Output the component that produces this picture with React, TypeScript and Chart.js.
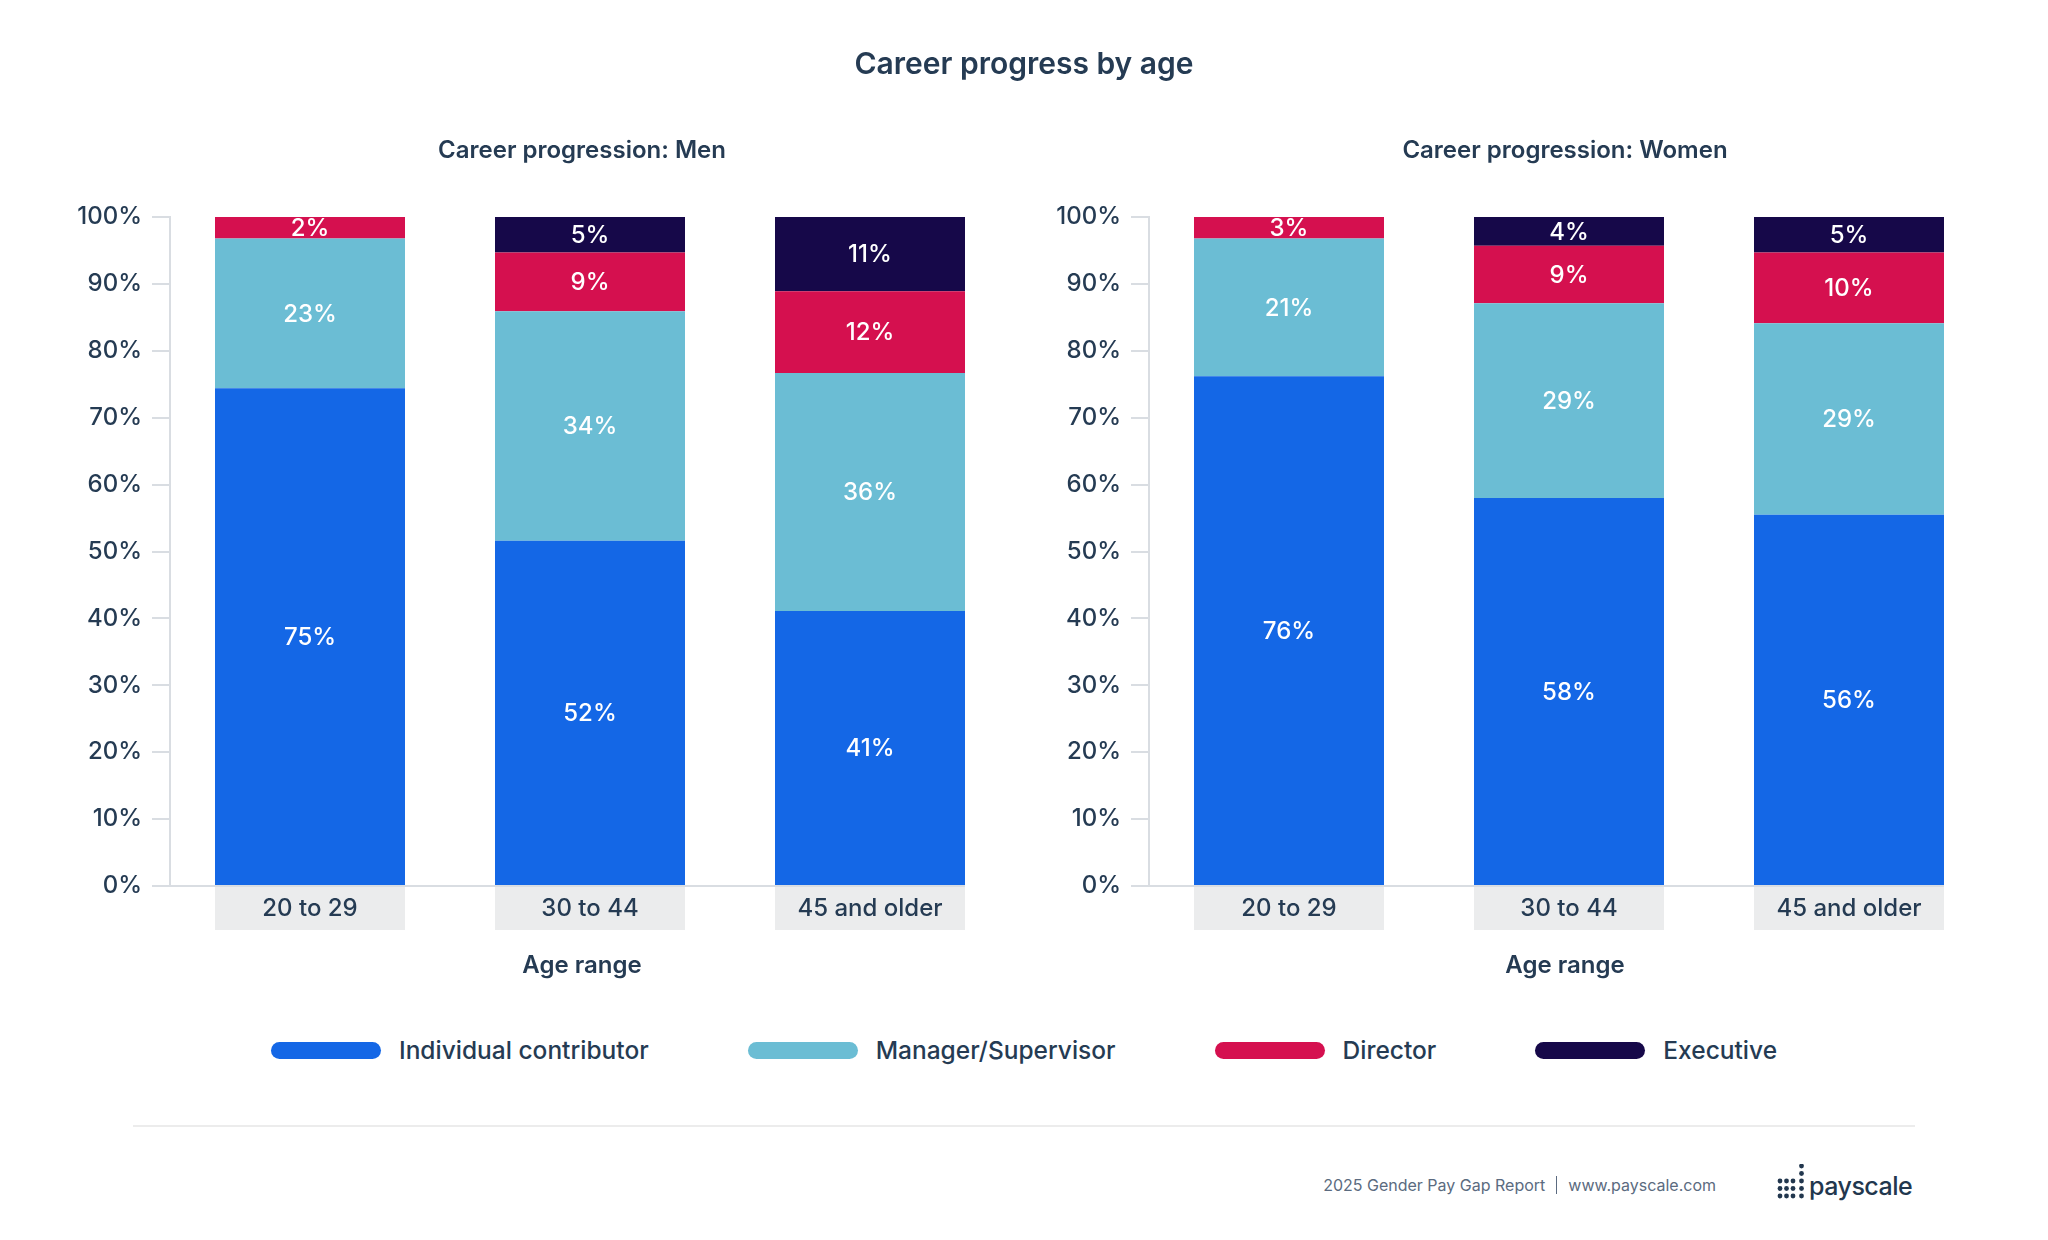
import React, { useEffect, useRef } from 'react';
import { Chart, registerables } from 'chart.js';

Chart.register(...registerables);

// ---------- data ----------
const categories = ['20 to 29', '30 to 44', '45 and older'];
const seriesNames = ['Individual contributor', 'Manager/Supervisor', 'Director', 'Executive'];
const seriesColors = ['#1467e6', '#6bbdd4', '#d5104f', '#160849'];
const yTickStep = 10;
const yMax = 100;

// measured segment heights (percent of bar)
const menIndividual = [74.4, 51.6, 41.1];
const menManager = [22.4, 34.3, 35.6];
const menDirector = [3.2, 8.8, 12.2];
const menExecutive = [0, 5.3, 11.1];

const womenIndividual = [76.2, 58.0, 55.5];
const womenManager = [20.6, 29.1, 28.6];
const womenDirector = [3.2, 8.6, 10.6];
const womenExecutive = [0, 4.3, 5.3];

// printed labels
const menIndividualLabels = [75, 52, 41];
const menManagerLabels = [23, 34, 36];
const menDirectorLabels = [2, 9, 12];
const menExecutiveLabels = [null, 5, 11];

const womenIndividualLabels = [76, 58, 56];
const womenManagerLabels = [21, 29, 29];
const womenDirectorLabels = [3, 9, 10];
const womenExecutiveLabels = [null, 4, 5];

const TEXT = '#253b53';
const AXIS = '#d9dde2';
const FONT = 'Inter';

const categoryBoxPlugin = {
  id: 'categoryBoxes',
  beforeDraw(chart: any) {
    const meta = chart.getDatasetMeta(0);
    const { ctx, chartArea } = chart;
    ctx.save();
    ctx.fillStyle = '#ebeced';
    let lastRight = chartArea.left;
    meta.data.forEach((bar: any) => {
      const w = bar.width;
      ctx.fillRect(bar.x - w / 2, chartArea.bottom + 1, w, 43);
      lastRight = Math.max(lastRight, bar.x + w / 2);
    });
    // baseline from the y axis to the right edge of the last bar
    ctx.strokeStyle = AXIS;
    ctx.lineWidth = 2;
    ctx.beginPath();
    ctx.moveTo(chartArea.left, chartArea.bottom);
    ctx.lineTo(lastRight, chartArea.bottom);
    ctx.stroke();
    ctx.restore();
  },
};

const valueLabelPlugin = {
  id: 'valueLabels',
  afterDatasetsDraw(chart: any) {
    const { ctx } = chart;
    ctx.save();
    ctx.font = `500 24px ${FONT}`;
    ctx.fillStyle = '#ffffff';
    ctx.textAlign = 'center';
    ctx.textBaseline = 'middle';
    chart.data.datasets.forEach((ds: any, i: number) => {
      const meta = chart.getDatasetMeta(i);
      meta.data.forEach((bar: any, j: number) => {
        const lbl = ds.shownLabels[j];
        if (lbl == null) return;
        ctx.fillText(lbl + '%', bar.x, (bar.y + bar.base) / 2 + 1);
      });
    });
    ctx.restore();
  },
};

function StackChart(props: {
  values: number[][];
  labels: (number | null)[][];
  left: number;
  width: number;
  yAxisWidth: number;
  padRight: number;
}) {
  const ref = useRef<HTMLCanvasElement>(null);
  useEffect(() => {
    const chart = new Chart(ref.current as HTMLCanvasElement, {
      type: 'bar',
      data: {
        labels: categories,
        datasets: props.values.map((v, i) => ({
          label: seriesNames[i],
          data: v,
          backgroundColor: seriesColors[i],
          borderWidth: 0,
          barPercentage: 1,
          categoryPercentage: 190 / 280,
          shownLabels: props.labels[i],
        })) as any,
      },
      options: {
        responsive: false,
        animation: false,
        layout: { padding: { left: 0, right: props.padRight, top: 217, bottom: 20 } },
        plugins: {
          legend: { display: false },
          tooltip: { enabled: false },
          title: { display: false },
        },
        scales: {
          x: {
            stacked: true,
            grid: { display: true, drawOnChartArea: false, drawTicks: false },
            border: { display: false },
            ticks: {
              font: { family: FONT, size: 24, weight: '500' as any },
              color: TEXT,
              padding: 8,
            },
            title: { display: false },
            afterFit: (s: any) => {
              s.height = 94;
            },
          },
          y: {
            stacked: true,
            min: 0,
            max: yMax,
            ticks: {
              stepSize: yTickStep,
              callback: (v: any) => v + '%',
              font: { family: FONT, size: 24, weight: '500' as any },
              color: TEXT,
              padding: 10,
            },
            grid: { drawOnChartArea: false, drawTicks: true, tickLength: 18, color: AXIS, lineWidth: 2 },
            border: { display: true, color: AXIS, width: 2 },
            afterFit: (s: any) => {
              s.width = props.yAxisWidth;
            },
          },
        },
      },
      plugins: [categoryBoxPlugin, valueLabelPlugin],
    });
    return () => chart.destroy();
  }, []);
  return (
    <canvas
      ref={ref}
      width={props.width}
      height={1000}
      style={{ position: 'absolute', left: props.left, top: 0 }}
    />
  );
}

function Logo() {
  const cols = [3, 9.5, 16, 24.5];
  const dots: { x: number; y: number }[] = [];
  cols.forEach((cx, ci) => {
    const rows = ci === 3 ? [2, 9.5, 17, 24.5, 32] : [17, 24.5, 32];
    rows.forEach((cy) => dots.push({ x: cx, y: cy }));
  });
  return (
    <div style={{ position: 'absolute', left: 1777, top: 1164, display: 'flex', alignItems: 'flex-end' }}>
      <svg width={28} height={36} style={{ display: 'block' }}>
        {dots.map((d, i) => (
          <circle key={i} cx={d.x} cy={d.y} r={2.4} fill="#22374e" />
        ))}
      </svg>
      <span
        style={{
          fontSize: 25,
          fontWeight: 500,
          color: '#22374e',
          lineHeight: '30px',
          marginLeft: 4,
          letterSpacing: -0.5,
          position: 'relative',
          top: 1,
        }}
      >
        payscale
      </span>
    </div>
  );
}

function CenteredText(props: { cx: number; cy: number; size: number; weight: number; children: React.ReactNode }) {
  return (
    <div
      style={{
        position: 'absolute',
        left: props.cx - 400,
        width: 800,
        top: props.cy - 20,
        height: 40,
        lineHeight: '40px',
        textAlign: 'center',
        fontSize: props.size,
        fontWeight: props.weight,
      }}
    >
      {props.children}
    </div>
  );
}

export default function App() {
  const menValues = [menIndividual, menManager, menDirector, menExecutive];
  const menLabels = [menIndividualLabels, menManagerLabels, menDirectorLabels, menExecutiveLabels];
  const womenValues = [womenIndividual, womenManager, womenDirector, womenExecutive];
  const womenLabels = [womenIndividualLabels, womenManagerLabels, womenDirectorLabels, womenExecutiveLabels];

  return (
    <div
      style={{
        position: 'absolute',
        left: 0,
        top: 0,
        width: 2048,
        height: 1240,
        background: '#ffffff',
        overflow: 'hidden',
        fontFamily: FONT,
        color: TEXT,
      }}
    >
      <StackChart values={menValues} labels={menLabels} left={0} width={1030} yAxisWidth={170} padRight={20} />
      <StackChart values={womenValues} labels={womenLabels} left={1030} width={1018} yAxisWidth={119} padRight={59} />

      <CenteredText cx={1024} cy={63} size={30} weight={600}>Career progress by age</CenteredText>
      <CenteredText cx={582} cy={150} size={24} weight={600}>Career progression: Men</CenteredText>
      <CenteredText cx={1565} cy={150} size={24} weight={600}>Career progression: Women</CenteredText>
      <CenteredText cx={582} cy={965} size={24} weight={600}>Age range</CenteredText>
      <CenteredText cx={1565} cy={965} size={24} weight={600}>Age range</CenteredText>

      <div
        style={{
          position: 'absolute',
          left: 0,
          top: 1030,
          width: 2048,
          height: 40,
          display: 'flex',
          justifyContent: 'center',
          alignItems: 'center',
          gap: 99,
        }}
      >
        {seriesNames.map((name, i) => (
          <div key={name} style={{ display: 'flex', alignItems: 'center' }}>
            <div
              style={{
                width: 110,
                height: 17,
                borderRadius: 9,
                background: seriesColors[i],
                marginRight: 18,
              }}
            />
            <span style={{ fontSize: 24.5, fontWeight: 500, lineHeight: '30px' }}>{name}</span>
          </div>
        ))}
      </div>

      <div
        style={{
          position: 'absolute',
          left: 133,
          top: 1125,
          width: 1782,
          height: 2,
          background: '#ececec',
        }}
      />

      <div
        style={{
          position: 'absolute',
          right: 2048 - 1716,
          top: 1173,
          lineHeight: '24px',
          fontSize: 16,
          color: '#5b6b80',
          display: 'flex',
          alignItems: 'center',
        }}
      >
        <span>2025 Gender Pay Gap Report</span>
        <span
          style={{
            display: 'inline-block',
            width: 1,
            height: 18,
            background: '#5b6b80',
            margin: '0 11px',
          }}
        />
        <span>www.payscale.com</span>
      </div>
      <Logo />
    </div>
  );
}
